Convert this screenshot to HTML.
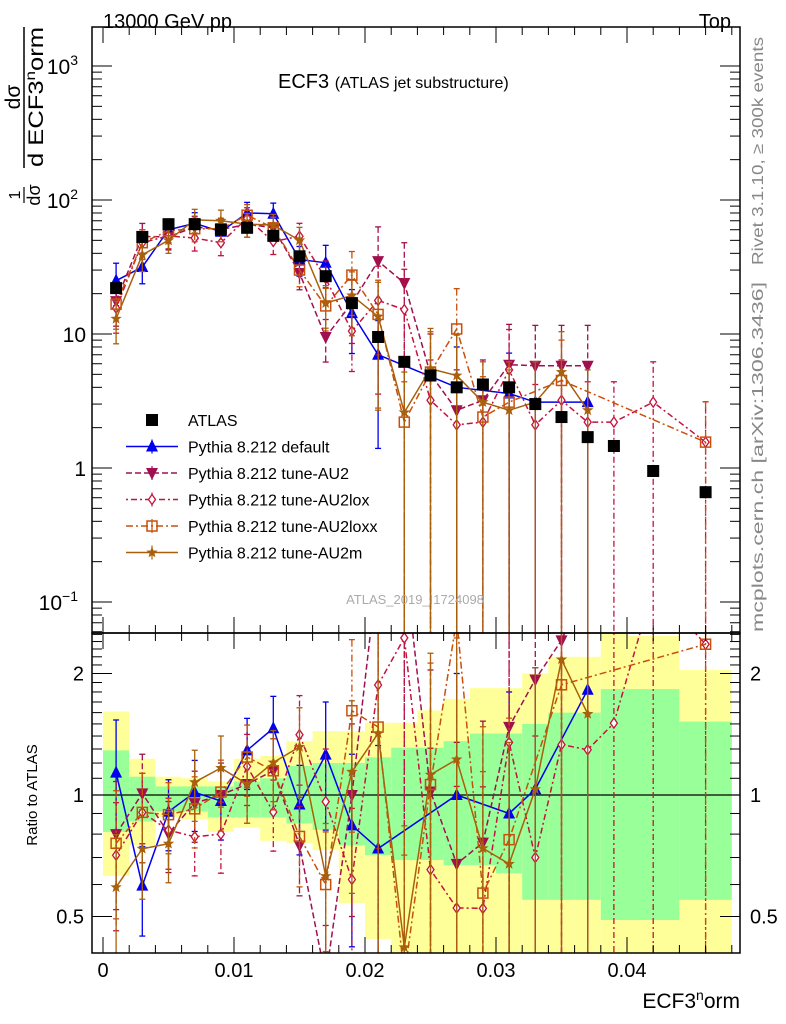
<!DOCTYPE html>
<html><head><meta charset="utf-8"><style>
html,body{margin:0;padding:0;background:#fff;overflow:hidden;}
svg{display:block;font-family:"Liberation Sans",sans-serif;}
</style></head><body>
<svg id="chart" width="786" height="1024" viewBox="0 0 786 1024" xmlns="http://www.w3.org/2000/svg">
<defs>
<clipPath id="clipMain"><rect x="92" y="27" width="648" height="606"/></clipPath>
<clipPath id="clipRatio"><rect x="92" y="633" width="648" height="320"/></clipPath>
</defs>
<g id="bands" clip-path="url(#clipRatio)"></g>
<g id="ratioMarks" clip-path="url(#clipRatio)"></g>
<g id="mainMarks" clip-path="url(#clipMain)"></g>
<g id="axes"></g>
<text x="103" y="28" font-size="20">13000 GeV pp</text>
<text x="731" y="28" font-size="20" text-anchor="end">Top</text>
<text x="278" y="88" font-size="20">ECF3 <tspan font-size="16">(ATLAS jet substructure)</tspan></text>
<text x="415" y="604" font-size="13" fill="#aaa" text-anchor="middle">ATLAS_2019_I1724098</text>
<text transform="translate(763,265) rotate(-90)" font-size="16" fill="#888" textLength="228" lengthAdjust="spacingAndGlyphs">Rivet 3.1.10, ≥ 300k events</text>
<text transform="translate(763,632) rotate(-90)" font-size="16" fill="#888" textLength="350" lengthAdjust="spacingAndGlyphs">mcplots.cern.ch [arXiv:1306.3436]</text>
<g font-size="21">
<text transform="translate(20,97) rotate(-90)" text-anchor="middle">dσ</text>
<line x1="24" y1="27" x2="24" y2="168" stroke="#000" stroke-width="1.5"/>
<text transform="translate(43,97) rotate(-90)" text-anchor="middle" textLength="140" lengthAdjust="spacingAndGlyphs">d ECF3<tspan font-size="14" dy="-8">n</tspan><tspan dy="8">orm</tspan></text>
<text transform="translate(20,195) rotate(-90)" text-anchor="middle" font-size="16">1</text>
<line x1="24" y1="187" x2="24" y2="203" stroke="#000" stroke-width="1.2"/>
<text transform="translate(40,195) rotate(-90)" text-anchor="middle" font-size="18">dσ</text>
</g>
<text transform="translate(37,795) rotate(-90)" font-size="15" text-anchor="middle">Ratio to ATLAS</text>
<text x="740" y="1008" font-size="21" text-anchor="end">ECF3<tspan font-size="14" dy="-8">n</tspan><tspan dy="8">orm</tspan></text>
<g id="legend"></g>
</svg>
<script>
const binEdges=[0,0.002,0.004,0.006,0.008,0.010,0.012,0.014,0.016,0.018,0.020,0.022,0.024,0.026,0.028,0.030,0.032,0.034,0.036,0.038,0.040,0.044,0.048];
const atlas=[22,53,66,66,60,62,54,38,27,17,9.5,6.2,4.9,4.0,4.2,4.0,3.0,2.4,1.7,1.46,0.95,0.66];
const greenUp=[1.29,1.11,1.05,1.05,1.05,1.08,1.10,1.18,1.2,1.2,1.24,1.31,1.31,1.36,1.42,1.42,1.5,1.6,1.6,1.83,1.83,1.52];
const greenDn=[0.81,0.86,0.91,0.91,0.88,0.88,0.88,0.85,0.82,0.75,0.71,0.69,0.69,0.67,0.67,0.64,0.55,0.55,0.55,0.49,0.49,0.55];
const yellowUp=[1.61,1.23,1.11,1.10,1.08,1.23,1.25,1.36,1.44,1.44,1.51,1.51,1.62,1.73,1.84,1.84,2.0,2.2,2.2,2.6,2.48,2.04];
const yellowDn=[0.63,0.75,0.88,0.87,0.81,0.83,0.77,0.76,0.73,0.54,0.44,0.40,0.38,0.38,0.38,0.38,0.38,0.38,0.38,0.38,0.40,0.38];
const sDefault=[25,31.6,60,67,58,80,79,36,34,14.3,7.0,null,null,4.0,null,3.6,3.1,null,3.1,null,null,null];
const sAU2=[17.6,53.5,53,63,60,66,62,28.5,9.5,17,35,24,5.0,2.7,3.2,5.9,5.8,5.8,5.8,null,null,null];
const sAU2lox=[15.6,48,54,52,48,73,49,53.6,26,10.5,17.8,15.2,3.2,2.1,2.2,5.4,2.1,3.2,2.2,2.2,3.1,1.56];
const sAU2loxx=[16.7,48,59,61,61,77,62,30,16.2,27.5,14,2.2,5.2,10.9,2.4,3.1,null,4.5,null,null,null,1.56];
const sAU2m=[13,39,50,71,70,66,65,50,17,19.4,13.5,2.6,5.5,4.9,3.1,2.7,3.1,5.2,2.7,null,null,null];
const relErr=[0.35,0.25,0.2,0.2,0.2,0.2,0.2,0.25,0.35,0.5,0.8,1,1,1,1,1,1,1,1,1,1,1];
const xTicks=[0,0.01,0.02,0.03,0.04];
const xTickLabels=["0","0.01","0.02","0.03","0.04"];
const ratioTicks=[0.5,1,2];
const ratioTickLabels=["0.5","1","2"];

const NS="http://www.w3.org/2000/svg";
const X=v=>103+v*13100;
const clampM=y=>Math.max(27,Math.min(633,y));
const clampR=y=>Math.max(633,Math.min(953,y));
const YM=v=>468-134*Math.log10(v);
const YR=r=>795-403.6*Math.log10(r);
function mk(tag,attrs,parent){const e=document.createElementNS(NS,tag);for(const k in attrs)e.setAttribute(k,attrs[k]);parent.appendChild(e);return e;}
const centers=atlas.map((_,i)=>(binEdges[i]+binEdges[i+1])/2);

const bands=document.getElementById('bands');
atlas.forEach((_,i)=>{
 const x0=X(binEdges[i]),x1=X(binEdges[i+1]);
 const yt=clampR(YR(yellowUp[i])),yb=clampR(YR(yellowDn[i]));
 let r=mk('rect',{x:x0,y:yt,width:x1-x0,height:yb-yt,fill:'#ffff99'},bands);
 
 
 let g=mk('rect',{x:x0,y:YR(greenUp[i]),width:x1-x0,height:YR(greenDn[i])-YR(greenUp[i]),fill:'#99ff99'},bands);
 
 
});
mk('line',{x1:92,x2:740,y1:YR(1),y2:YR(1),stroke:'#000','stroke-width':1.3},bands);

function marker(type,x,y,col,parent){
 let e;
 if(type==='sq') e=mk('rect',{x:x-6,y:y-6,width:12,height:12,fill:'#000'},parent);
 else if(type==='tu') e=mk('polygon',{points:`${x},${y-7} ${x-6},${y+5} ${x+6},${y+5}`,fill:col},parent);
 else if(type==='td') e=mk('polygon',{points:`${x},${y+7} ${x-6},${y-5} ${x+6},${y-5}`,fill:col},parent);
 else if(type==='di') e=mk('polygon',{points:`${x},${y-5} ${x-3.5},${y} ${x},${y+5} ${x+3.5},${y}`,fill:'#fff',stroke:col,'stroke-width':1.3},parent);
 else if(type==='os') e=mk('rect',{x:x-5,y:y-5,width:10,height:10,fill:'none',stroke:col,'stroke-width':1.5},parent);
 else if(type==='st'){let p=[];for(let k=0;k<10;k++){const a=-Math.PI/2+k*Math.PI/5,rr=k%2?2.5:6;p.push((x+rr*Math.cos(a)).toFixed(1)+','+(y+rr*Math.sin(a)).toFixed(1));}e=mk('polygon',{points:p.join(' '),fill:col},parent);}
 return e;
}
const series=[
 {name:'Pythia 8.212 default',vals:sDefault,col:'#0000ee',m:'tu',dash:'none',key:'default'},
 {name:'Pythia 8.212 tune-AU2',vals:sAU2,col:'#a0104f',m:'td',dash:'6,3',key:'au2'},
 {name:'Pythia 8.212 tune-AU2lox',vals:sAU2lox,col:'#c4123f',m:'di',dash:'2,3,6,3',key:'au2lox'},
 {name:'Pythia 8.212 tune-AU2loxx',vals:sAU2loxx,col:'#c8500c',m:'os',dash:'7,3,2,3',key:'au2loxx'},
 {name:'Pythia 8.212 tune-AU2m',vals:sAU2m,col:'#a8600c',m:'st',dash:'none',key:'au2m'}
];
const mainG=document.getElementById('mainMarks'),ratG=document.getElementById('ratioMarks');
series.forEach(s=>{
 const gm=mk('g',{},mainG);
 const gr=mk('g',{},ratG);
 const pm=[],pr=[];
 s.vals.forEach((v,i)=>{
  if(v==null)return;
  const x=X(centers[i]);
  pm.push(x+','+YM(v));pr.push(x+','+YR(v/atlas[i]));
  const hi=v*(1+relErr[i]),lo=v*(1-relErr[i]);
  const eattr={stroke:s.col,'stroke-width':1.3};
  if(s.dash!=='none')eattr['stroke-dasharray']=s.dash;
  mk('line',Object.assign({x1:x,x2:x,y1:clampM(YM(hi)),y2:lo>0?clampM(YM(lo)):633},eattr),gm);
  mk('line',Object.assign({x1:x,x2:x,y1:clampR(YR(hi/atlas[i])),y2:lo>0?clampR(YR(lo/atlas[i])):953},eattr),gr);
  mk('line',{x1:x-3,x2:x+3,y1:YM(hi),y2:YM(hi),stroke:s.col,'stroke-width':1.3},gm);
  if(lo>0)mk('line',{x1:x-3,x2:x+3,y1:YM(lo),y2:YM(lo),stroke:s.col,'stroke-width':1.3},gm);
  mk('line',{x1:x-3,x2:x+3,y1:YR(hi/atlas[i]),y2:YR(hi/atlas[i]),stroke:s.col,'stroke-width':1.3},gr);
  if(lo>0)mk('line',{x1:x-3,x2:x+3,y1:YR(lo/atlas[i]),y2:YR(lo/atlas[i]),stroke:s.col,'stroke-width':1.3},gr);
 });
 const la={fill:'none',stroke:s.col,'stroke-width':1.5};
 if(s.dash!=='none')la['stroke-dasharray']=s.dash;
 mk('polyline',Object.assign({points:pm.join(' ')},la),gm);
 mk('polyline',Object.assign({points:pr.join(' ')},la),gr);
 s.vals.forEach((v,i)=>{
  if(v==null)return;
  const x=X(centers[i]);
  const a=marker(s.m,x,YM(v),s.col,gm);
  
  
  const b=marker(s.m,x,YR(v/atlas[i]),s.col,gr);
  
  
 });
});
const ga=mk('g',{},mainG);
atlas.forEach((v,i)=>{
 const p=marker('sq',X(centers[i]),YM(v),'#000',ga);
 
 
});

const ax=document.getElementById('axes');
mk('rect',{x:92,y:27,width:648,height:606,fill:'none',stroke:'#000','stroke-width':1.5},ax);
mk('rect',{x:92,y:633,width:648,height:320,fill:'none',stroke:'#000','stroke-width':1.5},ax);
for(let k=0;k<=24;k++){
 const v=k*0.002,x=X(v);if(x>740)break;
 const maj=k%5===0,L=maj?16:8;
 [[27,1],[633,-1],[633,1],[953,-1]].forEach(([y,d])=>mk('line',{x1:x,x2:x,y1:y,y2:y+d*L,stroke:'#000','stroke-width':1},ax));
}
xTicks.forEach((v,i)=>{
 const t=mk('text',{x:X(v),y:977,'font-size':20,'text-anchor':'middle'},ax);t.textContent=xTickLabels[i];
 
 
});
const ylabels=[[-1,'10','−1'],[0,'1',''],[1,'10',''],[2,'10','2'],[3,'10','3']];
for(let d=-2;d<=3;d++){for(let m=1;m<=9;m++){const v=m*Math.pow(10,d),y=YM(v);if(y<27||y>633)continue;
 const L=m===1?20:10;
 mk('line',{x1:92,x2:92+L,y1:y,y2:y,stroke:'#000','stroke-width':1},ax);
 mk('line',{x1:740,x2:740-L,y1:y,y2:y,stroke:'#000','stroke-width':1},ax);}}
ylabels.forEach(([p,b,e])=>{
 const t=mk('text',{x:e?78:86,y:YM(Math.pow(10,p))+8,'font-size':21,'text-anchor':'end'},ax);
 t.textContent=b;
 if(e){const s=mk('tspan',{dy:-9,'font-size':14},t);s.textContent=e;}
 
 
});
for(let k=4;k<=25;k++){const r=k/10,y=YR(r);if(y<633||y>953)continue;
 const maj=(r===0.5||r===1||r===2);const L=maj?20:10;
 mk('line',{x1:92,x2:92+L,y1:y,y2:y,stroke:'#000','stroke-width':1},ax);
 mk('line',{x1:740,x2:740-L,y1:y,y2:y,stroke:'#000','stroke-width':1},ax);}
ratioTicks.forEach((r,i)=>{
 const t=mk('text',{x:84,y:YR(r)+7,'font-size':20,'text-anchor':'end'},ax);t.textContent=ratioTickLabels[i];
 
 
 const t2=mk('text',{x:750,y:YR(r)+7,'font-size':20},ax);t2.textContent=ratioTickLabels[i];
 
 
});
const lg=document.getElementById('legend');
const entries=[{name:'ATLAS',m:'sq',col:'#000',dash:null}].concat(series);
entries.forEach((s,i)=>{
 const y=420+i*26.5;
 const g=mk('g',{},lg);
 
 
 if(s.dash!=null){const a={x1:126,x2:178,y1:y,y2:y,stroke:s.col,'stroke-width':1.5};if(s.dash!=='none')a['stroke-dasharray']=s.dash;mk('line',a,g);
  mk('line',{x1:152,x2:152,y1:y-7,y2:y+7,stroke:s.col,'stroke-width':1.2},g);}
 marker(s.m,152,y,s.col,g);
 const t=mk('text',{x:188,y:y+6,'font-size':16},g);t.textContent=s.name;
});
</script>
</body></html>
